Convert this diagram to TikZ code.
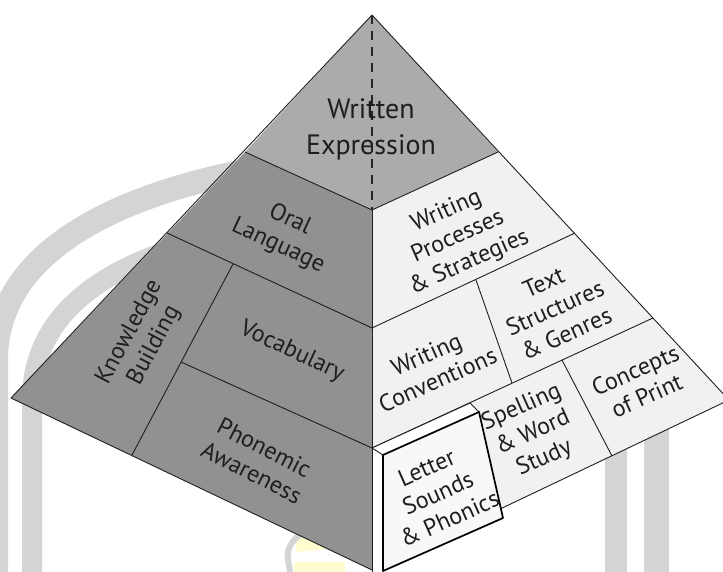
\documentclass[tikz,border=0pt]{standalone}
\usepackage{fontspec}
\setmainfont{PT Sans}
\definecolor{topg}{HTML}{ABABAB}
\definecolor{leftg}{HTML}{919191}
\definecolor{rightg}{HTML}{F1F1F1}
\definecolor{boxf}{HTML}{F8F8F8}
\definecolor{txt}{HTML}{1E1E1E}
\definecolor{wm}{HTML}{D4D4D4}
\definecolor{wmy}{HTML}{FFFCCF}
\begin{document}
\begin{tikzpicture}[x=1pt,y=-1pt,
  edge/.style={draw=black!88, line width=0.9pt, line join=round},
  boxedge/.style={draw=black, line width=1.7pt, line join=round},
  lbl/.style={text=txt, align=center, inner sep=0pt, font=\fontsize{24}{28}\selectfont},
  bigl/.style={text=txt, align=center, inner sep=0pt, font=\fontsize{28}{36}\selectfont},
  wmband/.style={draw=wm, line cap=butt}
]
\useasboundingbox (0,0) rectangle (723,572);
\clip (0,0) rectangle (723,572);
% watermark
\draw[wmband, line width=24pt] (-4,600) -- (-4,360) .. controls (-4,270) and (80,205) .. (240,172);
\draw[wmband, line width=20pt] (32,600) -- (32,400) .. controls (32,330) and (80,280) .. (170,250);
\fill[wm] (605,400) rectangle (627,572);
\fill[wm] (644,400) rectangle (669,572);
\fill[wmy] (296,536) .. controls (305,528) and (330,530) .. (340,548) -- (296,552) -- cycle;
\fill[wmy] (294,562) rectangle (345,572);
\draw[wm, line width=6pt] (290,572) -- (288,560) .. controls (286,550) and (292,540) .. (300,535);
% coordinates
\coordinate (A) at (372,15);
\coordinate (TL) at (245,152);
\coordinate (TR) at (498,152);
\coordinate (M) at (372,210);
\coordinate (L) at (11,398);
\coordinate (B) at (372,570);
\coordinate (R) at (729,400);
\coordinate (P1) at (167,233);
\coordinate (Q1) at (372,328);
\coordinate (S1) at (575,233);
\coordinate (K1) at (233,264);
\coordinate (K2) at (132,455);
\coordinate (V1) at (181,362);
\coordinate (Q2) at (372,448);
\coordinate (S2) at (653,318);
\coordinate (TS1) at (476,280);
\coordinate (TS2) at (512,383);
\coordinate (SC1) at (562,360);
\coordinate (SC2) at (612,456);
\coordinate (BT2) at (470,403);
\coordinate (F1) at (383,455);
\coordinate (F2) at (479,412);
\coordinate (F3) at (503,518);
\coordinate (F4) at (383,571);
\coordinate (BB) at (372,572);
% faces
\fill[topg] (A) -- (TL) -- (M) -- (TR) -- cycle;
\fill[leftg] (TL) -- (L) -- (B) -- (M) -- cycle;
\fill[rightg] (M) -- (TR) -- (R) -- (B) -- cycle;
% lines
\draw[edge] (A) -- (L) -- (B) -- (R) -- cycle;
\draw[edge] (TL) -- (M) -- (TR);
\draw[edge] (M) -- (B);
\draw[edge] (P1) -- (Q1) -- (S1);
\draw[edge] (K1) -- (K2);
\draw[edge] (V1) -- (Q2) -- (S2);
\draw[edge] (TS1) -- (TS2);
\draw[edge] (SC1) -- (SC2);
\draw[draw=black!85, line width=1.1pt, dash pattern=on 9pt off 7pt] (A) -- (M);
% letter box
\fill[white] (Q2) -- (BT2) -- (F2) -- (F1) -- cycle;
\fill[white] (Q2) -- (F1) -- (F4) -- (BB) -- cycle;
\fill[boxf] (F1) -- (F2) -- (F3) -- (F4) -- cycle;
\draw[edge] (Q2) -- (BT2) -- (F2);
\draw[edge] (Q2) -- (F1);
\draw[edge] (Q2) -- (BB);
\draw[boxedge] (F1) -- (F2) -- (F3) -- (F4) -- cycle;
% labels
\node[bigl] (we) at (371,129) {Written\\Expression};
\node[lbl, rotate=-25] (ol) at (284,233) {Oral\\Language};
\node[lbl, rotate=62] (kb) at (142,339) {Knowledge\\Building};
\node[lbl, rotate=-25] (vo) at (292,352) {Vocabulary};
\node[lbl, rotate=-27] (pa) at (258,460) {Phonemic\\Awareness};
\node[lbl, rotate=24] (wp) at (458,237) {Writing\\Processes\\\& Strategies};
\node[lbl, rotate=24] (ts) at (555,308) {Text\\Structures\\\& Genres};
\node[lbl, rotate=24] (wc) at (432,367) {Writing\\Conventions};
\node[lbl, rotate=24] (cp) at (641,383) {Concepts\\of Print};
\node[lbl, rotate=24] (sw) at (533,433) {Spelling\\\& Word\\Study};
\node[lbl, rotate=24] (ls) at (438,493) {Letter\\Sounds\\\& Phonics};
\end{tikzpicture}
\end{document}
